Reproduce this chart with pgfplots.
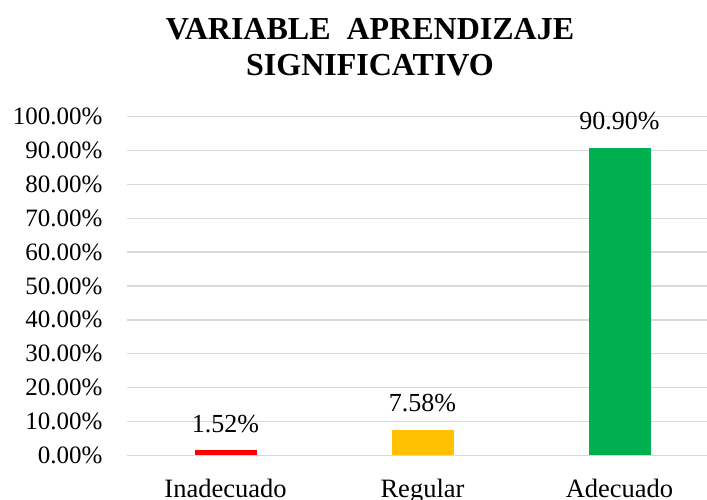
\documentclass[border=0pt]{standalone}
\usepackage{fontspec}
\setmainfont{Liberation Serif}
\usepackage{pgfplots}
\pgfplotsset{compat=1.18}
\definecolor{barred}{RGB}{255,0,0}
\definecolor{bargold}{RGB}{255,192,0}
\definecolor{bargreen}{RGB}{0,176,80}
\definecolor{gridgray}{RGB}{217,217,217}
\begin{document}
\begin{tikzpicture}
\begin{axis}[
  at={(0,0)}, anchor=south west,
  scale only axis,
  width=580pt, height=338.6pt,
  xmin=-0.5, xmax=2.444,
  ymin=0, ymax=100,
  ytick={0,10,...,100},
  xtick={0,1,2},
  xticklabels={Inadecuado,Regular,Adecuado},
  axis line style={draw=none},
  major tick length=0pt,
  ymajorgrids,
  grid style={gridgray, line width=1.5pt},
  /pgf/number format/assume math mode=true,
  yticklabel={\pgfmathprintnumber[fixed,fixed zerofill,precision=2]{\tick}\%},
  yticklabel style={font=\fontsize{25}{30}\selectfont, xshift=-21pt},
  xticklabel style={font=\fontsize{26.5}{31}\selectfont, yshift=-20pt},
  ybar, bar width=62pt, bar shift=0pt,
  point meta=explicit symbolic,
  nodes near coords,
  nodes near coords style={font=\fontsize{26}{31}\selectfont, text=black, anchor=south, yshift=14pt},
  clip=false,
]
\addplot[fill=barred, draw=none] coordinates {(0,1.52) [1.52\%]};
\addplot[fill=bargold, draw=none] coordinates {(1,7.58) [7.58\%]};
\addplot[fill=bargreen, draw=none] coordinates {(2,90.90) [90.90\%]};
\end{axis}
\node[align=center, font=\bfseries\fontsize{32}{36}\selectfont, inner sep=0pt] at (243pt,408pt) {VARIABLE\ \ APRENDIZAJE\\SIGNIFICATIVO};
\pgfresetboundingbox
\path[use as bounding box] (-127pt,-44.7pt) rectangle (580pt,455.3pt);
\end{tikzpicture}
\end{document}
